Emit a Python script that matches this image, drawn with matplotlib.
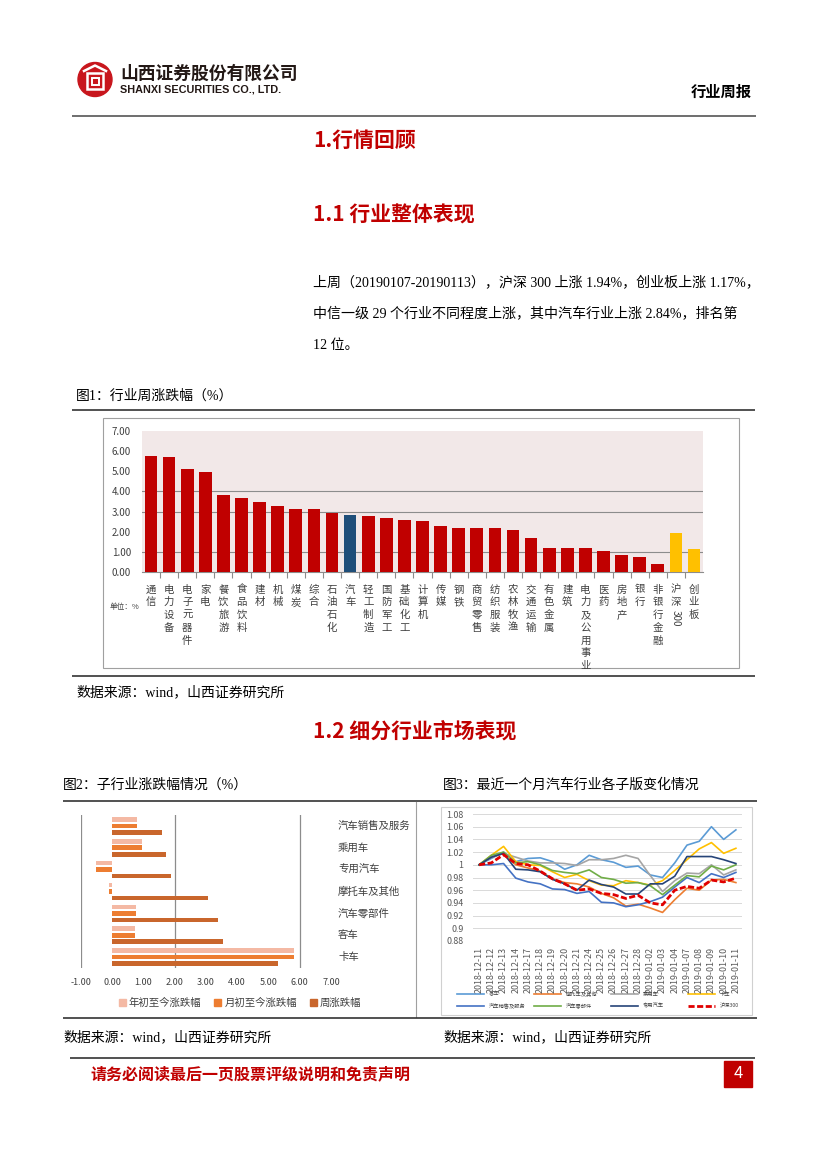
import re
import numpy as np
import matplotlib
matplotlib.use('Agg')
import matplotlib.pyplot as plt
import matplotlib.transforms as mtransforms
from matplotlib.patches import Rectangle, Circle, Patch

plt.rcParams['font.family'] = ['Noto Sans CJK SC', 'DejaVu Sans']
SERIF = ['Liberation Serif', 'Noto Sans CJK SC']

# ---- data: fig 1, weekly change by industry (%)
ind_names = ['通信', '电力设备', '电子元器件', '家电', '餐饮旅游', '食品饮料', '建材', '机械',
             '煤炭', '综合', '石油石化', '汽车', '轻工制造', '国防军工', '基础化工', '计算机',
             '传媒', '钢铁', '商贸零售', '纺织服装', '农林牧渔', '交通运输', '有色金属', '建筑',
             '电力及公用事业', '医药', '房地产', '银行', '非银行金融', '沪深300', '创业板']
ind_chg = [5.75, 5.70, 5.10, 4.95, 3.81, 3.66, 3.46, 3.28, 3.13, 3.11, 2.92, 2.84, 2.78,
           2.69, 2.59, 2.54, 2.31, 2.21, 2.21, 2.17, 2.11, 1.71, 1.22, 1.22, 1.21, 1.06,
           0.86, 0.76, 0.40, 1.94, 1.17]
focus_name = '汽车'
index_names = ['沪深300', '创业板']

# ---- data: fig 2, sub-industries (%)
sub_names = ['汽车销售及服务', '乘用车', '专用汽车', '摩托车及其他', '汽车零部件', '客车', '卡车']
sub_ytd = [0.79, 0.96, -0.53, -0.12, 0.77, 0.74, 5.81]
sub_mtd = [0.79, 0.96, -0.53, -0.12, 0.77, 0.74, 5.81]
sub_week = [1.60, 1.72, 1.88, 3.06, 3.37, 3.53, 5.29]
sub_series = ['年初至今涨跌幅', '月初至今涨跌幅', '周涨跌幅']

# ---- data: fig 3, last month, normalised
dates = ['2018-12-11', '2018-12-12', '2018-12-13', '2018-12-14', '2018-12-17', '2018-12-18',
         '2018-12-19', '2018-12-20', '2018-12-21', '2018-12-24', '2018-12-25', '2018-12-26',
         '2018-12-27', '2018-12-28', '2019-01-02', '2019-01-03', '2019-01-04', '2019-01-07',
         '2019-01-08', '2019-01-09', '2019-01-10', '2019-01-11']
line_names = ['客车', '摩托车及其他', '乘用车', '卡车', '汽车销售及服务', '汽车零部件', '专用汽车', '沪深300']
kc = [1.000, 1.010, 1.020, 1.005, 1.010, 1.011, 1.005, 0.993, 1.000, 1.015, 1.008, 1.004,
      0.996, 0.998, 0.984, 0.980, 1.003, 1.031, 1.037, 1.060, 1.040, 1.055]
mtc = [1.000, 1.012, 1.018, 1.000, 0.995, 0.990, 0.978, 0.972, 0.970, 0.965, 0.955, 0.948,
       0.935, 0.938, 0.932, 0.925, 0.945, 0.963, 0.960, 0.976, 0.977, 0.972]
cyc = [1.000, 1.012, 1.018, 1.012, 1.006, 1.003, 1.003, 1.002, 0.999, 1.008, 1.008, 1.010,
       1.015, 1.010, 0.983, 0.958, 0.975, 0.987, 0.986, 1.000, 0.984, 0.992]
kache = [1.000, 1.015, 1.029, 1.005, 1.000, 0.999, 0.989, 0.980, 0.985, 0.975, 0.968, 0.967,
         0.975, 0.972, 0.968, 0.975, 0.991, 1.008, 1.025, 1.035, 1.018, 1.026]
xsfw = [1.000, 1.000, 1.002, 0.979, 0.973, 0.970, 0.962, 0.961, 0.955, 0.958, 0.941, 0.940,
        0.934, 0.937, 0.942, 0.949, 0.965, 0.980, 0.972, 0.986, 0.980, 0.988]
ljj = [1.000, 1.015, 1.020, 1.003, 1.005, 1.000, 0.991, 0.988, 0.986, 0.992, 0.980, 0.977,
       0.971, 0.972, 0.967, 0.953, 0.968, 0.983, 0.981, 0.998, 0.992, 1.000]
zyqc = [1.000, 1.012, 1.018, 0.993, 0.992, 0.989, 0.977, 0.970, 0.960, 0.976, 0.969, 0.965,
        0.954, 0.954, 0.970, 0.970, 0.982, 1.013, 1.013, 1.013, 1.008, 1.002]
hs300 = [1.000, 1.003, 1.016, 1.002, 1.000, 0.990, 0.978, 0.970, 0.960, 0.962, 0.955, 0.953,
         0.947, 0.952, 0.940, 0.937, 0.960, 0.966, 0.963, 0.976, 0.973, 0.979]
line_values = [kc, mtc, cyc, kache, xsfw, ljj, zyqc, hs300]

W, H = 827, 1169
RED = '#C00000'
fig = plt.figure(figsize=(W / 100, H / 100), dpi=100)

# page overlay, 1 unit = 1 pixel, y downwards
bg = fig.add_axes([0, 0, 1, 1])
bg.set_xlim(0, W)
bg.set_ylim(H, 0)
bg.axis('off')


def hline(y, x0, x1, color='#333333', lw=1.2):
    bg.plot([x0, x1], [y, y], color=color, lw=lw, solid_capstyle='butt')


def add_ax(l, t, r, b):
    return fig.add_axes([l / W, 1 - b / H, (r - l) / W, (b - t) / H])


# header
bg.add_patch(Circle((95, 79.5), 17, color='#C8161D'))
bg.add_patch(Rectangle((87, 73), 16, 16, fill=False, ec='white', lw=1.8))
bg.add_patch(Rectangle((91.5, 77.5), 7, 7, fill=False, ec='white', lw=1.4))
bg.plot([84, 95, 106], [71, 65.5, 71], color='white', lw=1.8)
bg.text(120, 74, '山西证券股份有限公司', fontsize=12.8, fontweight='bold', color='#231815', va='center')
bg.text(120, 89, 'SHANXI SECURITIES CO., LTD.', fontsize=7.8, fontweight='bold',
        family='Liberation Sans', color='#231815', va='center')
bg.text(752, 92, '行业周报', fontsize=11, fontweight='bold', ha='right', va='center')
hline(116, 72, 756, '#555555', 1.2)

# headings and paragraph
bg.text(313, 140, '1.行情回顾', fontsize=15, fontweight='bold', color=RED, va='center')
bg.text(313, 215, '1.1 行业整体表现', fontsize=15, fontweight='bold', color=RED, va='center')
para = ['上周（20190107-20190113），沪深 300 上涨 1.94%，创业板上涨 1.17%，',
        '中信一级 29 个行业不同程度上涨，其中汽车行业上涨 2.84%，排名第',
        '12 位。']
for k, line in enumerate(para):
    bg.text(313, 282 + 32 * k, line, fontsize=10.1, va='center', family=SERIF)

bg.text(76, 396, '图1：行业周涨跌幅（%）', fontsize=10, va='center', family=SERIF)
hline(410, 72, 755)
bg.add_patch(Rectangle((103, 418), 636, 250, fill=False, ec='#A0A0A0', lw=0.8))
hline(676, 72, 755)
bg.text(76, 692, '数据来源：wind，山西证券研究所', fontsize=10, va='center', family=SERIF)
bg.text(313, 731, '1.2 细分行业市场表现', fontsize=15, fontweight='bold', color=RED, va='center')

# ---- chart 1
ax1 = add_ax(142, 430.7, 703, 572.3)
ax1.set_facecolor('#F2E8E8')
x1 = np.arange(len(ind_names))
bar_cols = ['#1F4E79' if n == focus_name else '#FFC000' if n in index_names else '#C00000'
            for n in ind_names]
ax1.bar(x1, ind_chg, width=0.7, color=bar_cols, zorder=3)
for g in [1, 3, 4]:
    ax1.axhline(g, color='#8C8C8C', lw=0.8, zorder=2)
ax1.set_xlim(-0.5, len(ind_names) - 0.5)
ax1.set_ylim(0, 7)
ax1.set_yticks(np.arange(0, 8))
ax1.set_yticklabels([f'{v:.2f}' for v in np.arange(0, 8)])
ax1.tick_params(axis='y', length=0, labelsize=7, labelcolor='#404040', pad=8)
ax1.set_xticks(x1[:-1] + 0.5)
ax1.set_xticklabels([])
ax1.tick_params(axis='x', length=4, color='#8C8C8C', direction='out')
for s in ['left', 'top', 'right']:
    ax1.spines[s].set_visible(False)
ax1.spines['bottom'].set_color('#8C8C8C')

tr1 = mtransforms.blended_transform_factory(ax1.transData, bg.transData)
for i, name in enumerate(ind_names):
    y = 583
    for tok in re.findall(r'[A-Za-z0-9.]+|.', name):
        if tok.isascii():
            h = 6.2 * len(tok)
            bg.text(i, y + h / 2, tok, transform=tr1, rotation=270, fontsize=7,
                    ha='center', va='center', color='#404040')
            y += h + 2
        else:
            bg.text(i, y + 6.5, tok, transform=tr1, fontsize=7.5,
                    ha='center', va='center', color='#404040')
            y += 12.8
bg.text(110, 607, '单位：%', fontsize=5.5, va='center', color='#404040')

# ---- chart 2
bg.text(63, 785, '图2：子行业涨跌幅情况（%）', fontsize=10, va='center', family=SERIF)
bg.text(443, 785, '图3：最近一个月汽车行业各子版变化情况', fontsize=10, va='center', family=SERIF)
hline(801, 63, 757)
bg.plot([416, 416], [802, 1017], color='#A0A0A0', lw=0.8)

ax2 = add_ax(81, 815, 331, 968)
y2 = np.arange(len(sub_names))
sub_cols = ['#F4B9A4', '#ED7D31', '#C9662C']
for k, vals in enumerate([sub_ytd, sub_mtd, sub_week]):
    ax2.barh(y2 + (k - 1) * 0.295, vals, height=0.21, color=sub_cols[k], zorder=3)
for g in [-1, 2, 6]:
    ax2.axvline(g, color='#8C8C8C', lw=0.9, zorder=1)
ax2.set_xlim(-1, 7)
ax2.set_ylim(len(sub_names) - 0.5, -0.5)
ax2.set_xticks(np.arange(-1, 8))
ax2.set_xticklabels([f'{v:.2f}' for v in np.arange(-1, 8)])
ax2.set_yticks([])
ax2.tick_params(axis='x', length=0, labelsize=6.5, labelcolor='#404040', pad=7)
ax2.patch.set_alpha(0)
for s in ax2.spines.values():
    s.set_visible(False)
tr2 = mtransforms.blended_transform_factory(bg.transData, ax2.transData)
for i, name in enumerate(sub_names):
    bg.text(338, i, name, transform=tr2, fontsize=7.5, va='center', color='#404040')
handles2 = [Patch(color=c) for c in sub_cols]
fig.legend(handles2, sub_series, loc='center', bbox_to_anchor=(240 / W, 1 - 1003 / H),
           ncol=3, frameon=False, fontsize=7.5, handlelength=0.7, handleheight=0.7,
           handletextpad=0.3, columnspacing=1.2, labelcolor='#404040')

# ---- chart 3
bg.add_patch(Rectangle((441, 807), 311, 208, fill=False, ec='#D0D0D0', lw=0.8))
ax3 = add_ax(473, 814, 742, 941)
x3 = np.arange(len(dates))
line_cols = ['#5B9BD5', '#ED7D31', '#A5A5A5', '#FFC000', '#4472C4', '#70AD47', '#264478', '#E00000']
for k, vals in enumerate(line_values):
    if line_names[k] == '沪深300':
        ax3.plot(x3, vals, color=line_cols[k], lw=2.0, linestyle=(0, (2.2, 0.9)), zorder=4)
    else:
        ax3.plot(x3, vals, color=line_cols[k], lw=1.2, zorder=3)
yt = np.round(np.arange(0.88, 1.081, 0.02), 2)
ax3.set_yticks(yt)
ax3.set_yticklabels([f'{v:g}' for v in yt])
ax3.set_ylim(0.88, 1.08)
ax3.set_xlim(-0.5, len(dates) - 0.5)
ax3.set_xticks(x3)
ax3.set_xticklabels(dates, rotation=90)
ax3.tick_params(axis='both', length=0, labelsize=6.4, labelcolor='#595959')
ax3.tick_params(axis='y', pad=7)
ax3.tick_params(axis='x', pad=4)
ax3.grid(axis='y', color='#D9D9D9', lw=0.7)
ax3.set_axisbelow(True)
ax3.patch.set_alpha(0)
for s in ax3.spines.values():
    s.set_visible(False)

for k, name in enumerate(line_names):
    r, c = divmod(k, 4)
    lx = 457 + 77 * c
    ly = 994 + 12 * r
    if name == '沪深300':
        bg.plot([lx, lx + 27], [ly, ly], color=line_cols[k], lw=2.0, linestyle=(0, (2.2, 0.9)))
    else:
        bg.plot([lx, lx + 27], [ly, ly], color=line_cols[k], lw=1.2)
    bg.text(lx + 32, ly, name, fontsize=3.8, va='center', color='#404040')

hline(1018, 63, 757)
bg.text(63, 1037, '数据来源：wind，山西证券研究所', fontsize=10, va='center', family=SERIF)
bg.text(443, 1037, '数据来源：wind，山西证券研究所', fontsize=10, va='center', family=SERIF)

# footer
hline(1058, 70, 755)
bg.text(90, 1074, '请务必阅读最后一页股票评级说明和免责声明', fontsize=11.5, fontweight='bold',
        color=RED, va='center')
bg.add_patch(Rectangle((724, 1061), 28, 26, color=RED))
bg.text(738, 1074, '4', color='white', fontsize=12, ha='center', va='center')

fig.savefig('out.png', dpi=100)
